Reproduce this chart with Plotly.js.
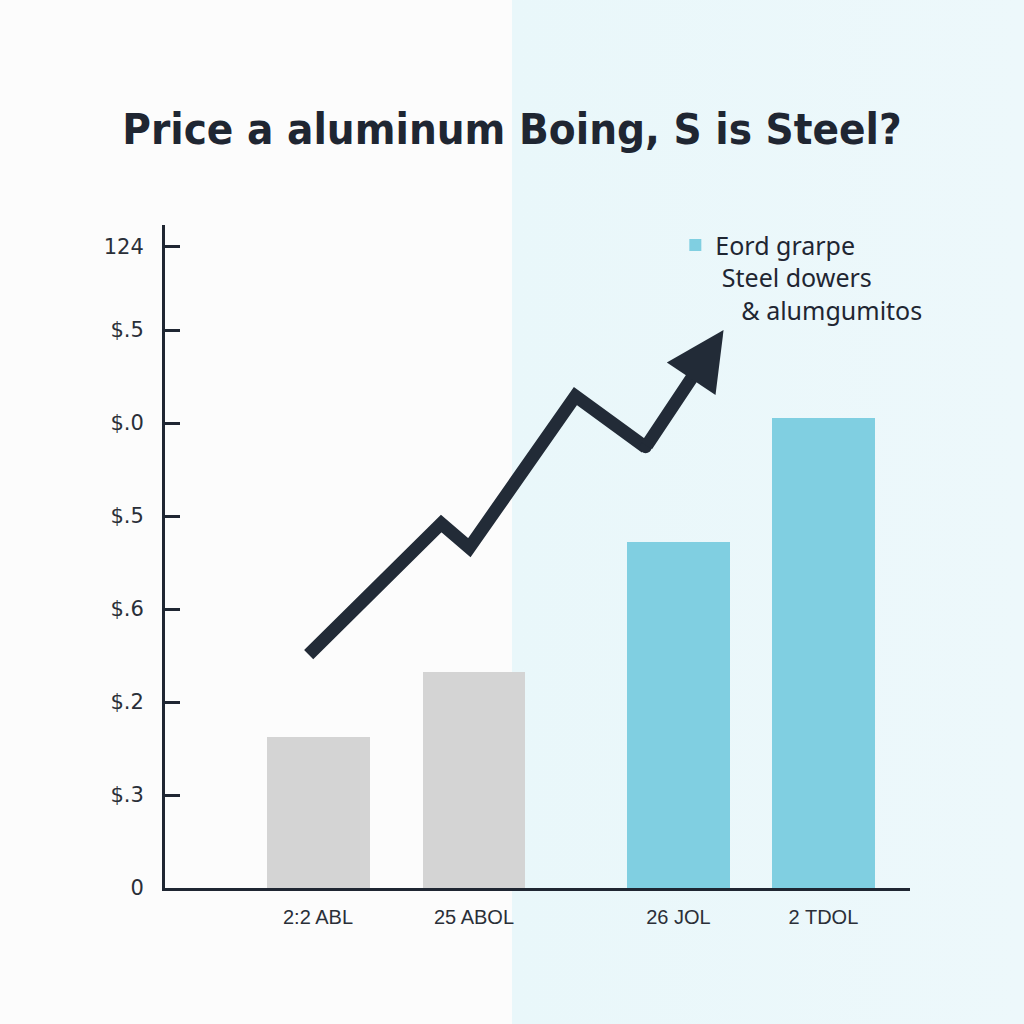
<!DOCTYPE html>
<html>
<head>
<meta charset="utf-8">
<script src="https://cdn.plot.ly/plotly-3.0.1.min.js"></script>
<style>
  html, body { margin: 0; padding: 0; }
  body { width: 1024px; height: 1024px; background: linear-gradient(to right, #fcfcfc 0%, #fcfcfc 50%, #e9f7fa 50%, #edf8fb 100%); }
  #chart { width: 1024px; height: 1024px; }
</style>
</head>
<body>
<div id="chart"></div>
<script>
// ---- data ----
const categories = ["2:2 ABL", "25 ABOL", "26 JOL", "2 TDOL"];
const greyCategories = ["2:2 ABL", "25 ABOL"];
const greyValues = [1.62, 2.32];
const blueCategories = ["26 JOL", "2 TDOL"];
const blueValues = [3.72, 5.05];
const trendX = [0.94, 1.79, 1.97, 2.65, 3.10, 3.60];
const trendY = [2.51, 3.92, 3.66, 5.29, 4.74, 6.00];
const yTickValues = [0, 1, 2, 3, 4, 5, 6, 6.9];
const yTickLabels = ["0", "$.3", "$.2", "$.6", "$.5", "$.0", "$.5", "124"];
const legendName = "Eord grarpe<br>\u00a0Steel dowers<br>\u00a0\u00a0\u00a0\u00a0& alumgumitos";
const titleText = "Price a aluminum Boing, S is Steel?";

// ---- layout helpers (positions of category slots on the x axis) ----
const slotPositions = [1, 2, 3.31, 4.24];
const slotOf = {};
categories.forEach((c, i) => { slotOf[c] = slotPositions[i]; });

const ink = "#1f2632";
const trendColor = "#222b37";
const n = trendX.length;

const traces = [
  {
    type: "bar",
    x: greyCategories.map(c => slotOf[c]),
    y: greyValues,
    width: 0.66,
    marker: { color: "#d4d4d4", line: { width: 0 } },
    showlegend: false,
    hoverinfo: "skip"
  },
  {
    type: "bar",
    name: legendName,
    x: blueCategories.map(c => slotOf[c]),
    y: blueValues,
    width: 0.66,
    marker: { color: "#80cfe1", line: { width: 0 } },
    showlegend: true,
    hoverinfo: "skip"
  },
  {
    // trend line up to the last bend; the final segment + head is the annotation arrow
    type: "scatter",
    mode: "lines",
    x: trendX.slice(0, n - 1),
    y: trendY.slice(0, n - 1),
    line: { color: trendColor, width: 13 },
    showlegend: false,
    hoverinfo: "skip"
  },
  {
    // joint filler where the line meets the arrow segment
    type: "scatter",
    mode: "markers",
    x: trendX.slice(n - 2, n - 1),
    y: trendY.slice(n - 2, n - 1),
    marker: { size: 12, color: trendColor, line: { width: 0 } },
    showlegend: false,
    hoverinfo: "skip"
  }
];

const layout = {
  width: 1024,
  height: 1024,
  margin: { l: 165, r: 114, t: 225, b: 136 },
  paper_bgcolor: "rgba(0,0,0,0)",
  plot_bgcolor: "rgba(0,0,0,0)",
  title: {
    text: titleText,
    x: 0.5,
    xref: "container",
    xanchor: "center",
    y: 0.874,
    yref: "container",
    yanchor: "middle",
    font: { family: "'DejaVu Sans Condensed', 'Liberation Sans Narrow', sans-serif", size: 43.5, weight: "bold", color: ink }
  },
  annotations: [
    {
      x: trendX[n - 1], y: trendY[n - 1], xref: "x", yref: "y",
      ax: trendX[n - 2], ay: trendY[n - 2], axref: "x", ayref: "y",
      text: "",
      showarrow: true,
      arrowhead: 2,
      arrowsize: 0.9,
      arrowwidth: 13,
      arrowcolor: trendColor
    }
  ],
  xaxis: {
    range: [0.019, 4.795],
    tickmode: "array",
    tickvals: slotPositions,
    ticktext: categories,
    showgrid: false,
    zeroline: false,
    showline: true,
    linecolor: ink,
    linewidth: 3,
    ticks: "",
    ticklabelstandoff: 9,
    tickfont: { family: "'Liberation Sans', Arial, sans-serif", size: 20, color: "#2a2f38" },
    fixedrange: true
  },
  yaxis: {
    range: [0, 7.13],
    tickmode: "array",
    tickvals: yTickValues,
    ticktext: yTickLabels,
    showgrid: false,
    zeroline: false,
    showline: true,
    linecolor: ink,
    linewidth: 3,
    ticks: "inside",
    ticklen: 15,
    tickwidth: 3,
    tickcolor: ink,
    ticklabelstandoff: 14,
    tickfont: { family: "'DejaVu Sans', sans-serif", size: 21, color: "#2a2f38" },
    fixedrange: true
  },
  legend: {
    x: 0.685,
    xanchor: "left",
    y: 1.004,
    yanchor: "top",
    valign: "top",
    bgcolor: "rgba(0,0,0,0)",
    font: { family: "'Noto Sans', sans-serif", size: 25, color: ink }
  },
  showlegend: true,
  bargap: 0
};

Plotly.newPlot("chart", traces, layout, { staticPlot: true, displayModeBar: false });
</script>
</body>
</html>
